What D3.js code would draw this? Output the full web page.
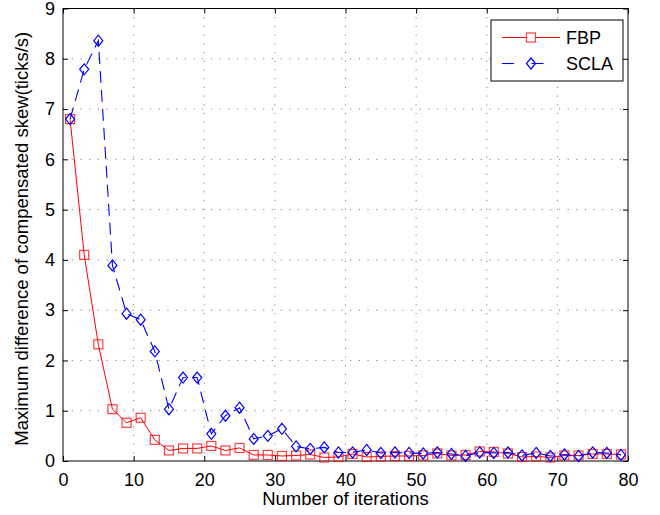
<!DOCTYPE html>
<html>
<head>
<meta charset="utf-8">
<script src="https://cdn.jsdelivr.net/npm/d3@7/dist/d3.min.js"></script>
<style>
    html, body { margin: 0; padding: 0; background: #fff; }
    svg text { font-family: "Liberation Sans", Arial, Helvetica, sans-serif; fill: #000; }
</style>
</head>
<body>
<div id="chart"></div>
<script>
// iterations where a marker was plotted
const iterations = [1, 3, 5, 7, 9, 11, 13, 15, 17, 19, 21, 23, 25, 27, 29, 31, 33, 35, 37, 39,
    41, 43, 45, 47, 49, 51, 53, 55, 57, 59, 61, 63, 65, 67, 69, 71, 73, 75, 77, 79];

const fbpValues = [6.8, 4.1, 2.32, 1.03, 0.76, 0.86, 0.42, 0.21, 0.25, 0.25,
    0.3, 0.21, 0.26, 0.12, 0.12, 0.1, 0.11, 0.13, 0.07, 0.08,
    0.14, 0.08, 0.09, 0.1, 0.1, 0.11, 0.15, 0.11, 0.12, 0.19,
    0.18, 0.15, 0.08, 0.09, 0.07, 0.11, 0.11, 0.14, 0.14, 0.13];

const sclaValues = [6.8, 7.79, 8.36, 3.89, 2.93, 2.81, 2.18, 1.03, 1.66, 1.66,
    0.54, 0.9, 1.06, 0.44, 0.5, 0.64, 0.29, 0.24, 0.27, 0.17,
    0.17, 0.22, 0.16, 0.17, 0.16, 0.15, 0.17, 0.14, 0.1, 0.17,
    0.16, 0.17, 0.11, 0.16, 0.1, 0.13, 0.1, 0.17, 0.16, 0.12];

const xTicks = [0, 10, 20, 30, 40, 50, 60, 70, 80];
const yTicks = [0, 1, 2, 3, 4, 5, 6, 7, 8, 9];

const seriesNames = ["FBP", "SCLA"];

const WIDTH = 660;
const HEIGHT = 515;
const margin = { top: 8.5, right: 32, bottom: 54, left: 63 };
const plotWidth = WIDTH - margin.left - margin.right;
const plotHeight = HEIGHT - margin.top - margin.bottom;

const RED = "#ff0000";
const BLUE = "#0000ff";

let svg = d3.select("#chart")
    .append("svg")
    .attr("width", WIDTH)
    .attr("height", HEIGHT);

let plot = svg.append("g")
    .attr("transform", `translate(${margin.left}, ${margin.top})`);

let x = d3.scaleLinear().domain([0, 80]).range([0, plotWidth]);
let y = d3.scaleLinear().domain([0, 9]).range([plotHeight, 0]);

/**** GRID ****/

plot.append("g")
    .selectAll("line")
    .data(xTicks.slice(1, -1))
    .join("line")
    .attr("x1", d => x(d))
    .attr("x2", d => x(d))
    .attr("y1", 0)
    .attr("y2", plotHeight)
    .attr("stroke", "#808080")
    .attr("stroke-width", 1)
    .attr("stroke-dasharray", "1.2,7.5");

plot.append("g")
    .selectAll("line")
    .data(yTicks.slice(1, -1))
    .join("line")
    .attr("x1", 0)
    .attr("x2", plotWidth)
    .attr("y1", d => y(d))
    .attr("y2", d => y(d))
    .attr("stroke", "#808080")
    .attr("stroke-width", 1)
    .attr("stroke-dasharray", "1.2,7.5");

/**** AXES (matlab style: inward ticks on every side) ****/

function styleAxis(g) {
    g.select(".domain").remove();
    g.selectAll(".tick line").attr("stroke", "#000");
    g.selectAll(".tick text").attr("font-size", 18).attr("fill", "#000");
}

plot.append("g")
    .attr("transform", `translate(0, ${plotHeight})`)
    .call(d3.axisBottom(x).tickValues(xTicks).tickSizeInner(-5).tickSizeOuter(0).tickPadding(12))
    .call(styleAxis);

plot.append("g")
    .call(d3.axisTop(x).tickValues(xTicks).tickSizeInner(-5).tickSizeOuter(0).tickFormat(""))
    .call(styleAxis);

plot.append("g")
    .call(d3.axisLeft(y).tickValues(yTicks).tickSizeInner(-5).tickSizeOuter(0).tickPadding(8))
    .call(styleAxis);

plot.append("g")
    .attr("transform", `translate(${plotWidth}, 0)`)
    .call(d3.axisRight(y).tickValues(yTicks).tickSizeInner(-5).tickSizeOuter(0).tickFormat(""))
    .call(styleAxis);

plot.append("rect")
    .attr("x", 0)
    .attr("y", 0)
    .attr("width", plotWidth)
    .attr("height", plotHeight)
    .attr("fill", "none")
    .attr("stroke", "#000")
    .attr("stroke-width", 1);

/**** SERIES ****/

let lineGen = d3.line()
    .x((d, i) => x(iterations[i]))
    .y(d => y(d));

const diamondPath = "M0,-5.5L4.5,0L0,5.5L-4.5,0Z";

function drawSquares(g, values) {
    g.selectAll("rect")
        .data(values)
        .join("rect")
        .attr("x", (d, i) => x(iterations[i]) - 4.5)
        .attr("y", d => y(d) - 4.5)
        .attr("width", 9)
        .attr("height", 9)
        .attr("fill", "none")
        .attr("stroke", RED)
        .attr("stroke-opacity", 0.75)
        .attr("stroke-width", 1.2);
}

function drawDiamonds(g, values) {
    g.selectAll("path")
        .data(values)
        .join("path")
        .attr("d", diamondPath)
        .attr("transform", (d, i) => `translate(${x(iterations[i])}, ${y(d)})`)
        .attr("fill", "none")
        .attr("stroke", BLUE)
        .attr("stroke-width", 1.2);
}

plot.append("path")
    .datum(fbpValues)
    .attr("d", lineGen)
    .attr("fill", "none")
    .attr("stroke", RED)
    .attr("stroke-width", 1);
drawSquares(plot.append("g"), fbpValues);

plot.append("path")
    .datum(sclaValues)
    .attr("d", lineGen)
    .attr("fill", "none")
    .attr("stroke", BLUE)
    .attr("stroke-width", 1.1)
    .attr("stroke-dasharray", "12,7");
drawDiamonds(plot.append("g"), sclaValues);

/**** LABELS ****/

svg.append("text")
    .attr("x", margin.left + plotWidth / 2)
    .attr("y", 505)
    .attr("text-anchor", "middle")
    .attr("font-size", 18.5)
    .text("Number of iterations");

svg.append("text")
    .attr("transform", `translate(28, ${margin.top + plotHeight / 2 + 4}) rotate(-90)`)
    .attr("text-anchor", "middle")
    .attr("font-size", 18.5)
    .text("Maximum difference of compensated skew(ticks/s)");

/**** LEGEND ****/

let legend = svg.append("g").attr("transform", "translate(491, 20)");

legend.append("rect")
    .attr("width", 132)
    .attr("height", 61)
    .attr("fill", "#fff")
    .attr("stroke", "#000")
    .attr("stroke-width", 1);

let rows = legend.selectAll("g.row")
    .data(seriesNames)
    .join("g")
    .classed("row", true)
    .attr("transform", (d, i) => `translate(0, ${17.5 + i * 26})`);

rows.append("line")
    .attr("x1", 11)
    .attr("x2", 69)
    .attr("y1", 0)
    .attr("y2", 0)
    .attr("stroke", (d, i) => i === 0 ? RED : BLUE)
    .attr("stroke-width", (d, i) => i === 0 ? 1 : 1.1)
    .attr("stroke-dasharray", (d, i) => i === 0 ? null : "12,17.5");

rows.filter((d, i) => i === 0)
    .append("rect")
    .attr("x", 35.5)
    .attr("y", -4.5)
    .attr("width", 9)
    .attr("height", 9)
    .attr("fill", "#fff")
    .attr("stroke", RED)
    .attr("stroke-opacity", 0.75)
    .attr("stroke-width", 1.2);

rows.filter((d, i) => i === 1)
    .append("path")
    .attr("d", diamondPath)
    .attr("transform", "translate(40, 0)")
    .attr("fill", "none")
    .attr("stroke", BLUE)
    .attr("stroke-width", 1.2);

rows.append("text")
    .attr("x", 75)
    .attr("y", 6.5)
    .attr("font-size", 18)
    .text(d => d);
</script>
</body>
</html>
